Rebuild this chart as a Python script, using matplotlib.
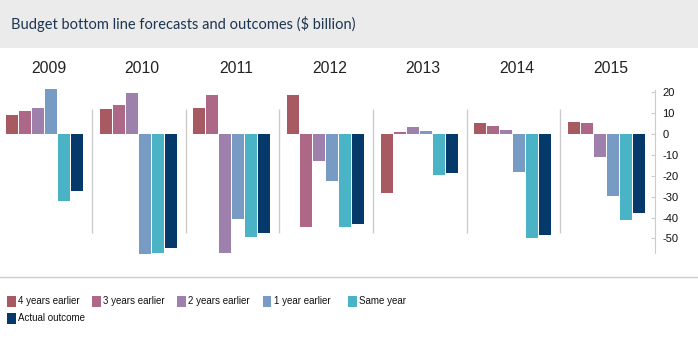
import matplotlib
matplotlib.use("Agg")
import matplotlib.pyplot as plt
from matplotlib.patches import Rectangle
from matplotlib.lines import Line2D

years = ["2009", "2010", "2011", "2012", "2013", "2014", "2015"]
series_names = ["4 years earlier", "3 years earlier", "2 years earlier",
                "1 year earlier", "Same year", "Actual outcome"]
four_years = [9.1, 12.0, 12.5, 18.7, -28.3, 5.3, 5.8]
three_years = [11.0, 13.9, 18.7, -44.6, 1.0, 3.8, 5.3]
two_years = [12.5, 19.6, -57.0, -12.9, 3.4, 1.9, -11.0]
one_year = [21.6, -57.5, -40.7, -22.5, 1.4, -18.2, -29.7]
same_year = [-32.1, -57.0, -49.4, -44.6, -19.6, -49.8, -41.2]
actual = [-27.3, -54.6, -47.4, -43.1, -18.7, -48.4, -37.9]
yticks = [20, 10, 0, -10, -20, -30, -40, -50]

series = [four_years, three_years, two_years, one_year, same_year, actual]
colors = ["#a85a62", "#ad6787", "#9d80ac", "#779bc3", "#4ab3c5", "#04396a"]

W, H = 698, 341
fig = plt.figure(figsize=(W / 100, H / 100), dpi=100)
plt.rcParams['font.family'] = ['Liberation Sans', 'DejaVu Sans']

# title band
fig.patches.append(Rectangle((0, 1 - 48 / H), 1, 48 / H, transform=fig.transFigure,
                             facecolor="#ebebeb", edgecolor="none", zorder=0))
fig.text(11 / W, 1 - 24 / H, "Budget bottom line forecasts and outcomes ($ billion)",
         fontsize=10.5, color="#1d3550", va="center", ha="left", family=["Lato", "DejaVu Sans"])

ax = fig.add_axes([0, 1 - 253 / H, 654.5 / W, (253 - 90) / H])
gs = 7.2
bw = 0.92
for k, (vals, c) in enumerate(zip(series, colors)):
    xs = [g * gs + k for g in range(len(years))]
    ax.bar(xs, vals, width=bw, color=c, clip_on=False, zorder=2)

for g in range(len(years) - 1):
    ax.vlines(g * gs + 6.14, -47.4, 12, color="#cccccc", lw=1, zorder=1)

for g, y in enumerate(years):
    ax.text(g * gs + 2.8, 1.132, y, transform=ax.get_xaxis_transform(),
            ha="center", va="center", fontsize=11.3, color="#222222")

ax.set_xlim(-0.92, 49.39)
ax.set_ylim(-57.0, 21.1)
for s in ["top", "left", "bottom"]:
    ax.spines[s].set_visible(False)
ax.spines["right"].set_color("#cccccc")
ax.yaxis.tick_right()
ax.set_yticks(yticks)
ax.set_yticklabels([str(t) for t in yticks])
ax.tick_params(axis="y", direction="in", length=3, color="#cccccc", pad=5.8,
               labelsize=8, labelcolor="#111111")
ax.set_xticks([])
ax.patch.set_visible(False)

# separator line
fig.add_artist(Line2D([0, 1], [1 - 277 / H, 1 - 277 / H], transform=fig.transFigure,
                      color="#cccccc", lw=1))

# legend
positions = [(7, 301), (92, 301), (177, 301), (262.7, 301), (348, 301), (7, 318)]
for (px, py), name, c in zip(positions, series_names, colors):
    fig.patches.append(Rectangle((px / W, 1 - (py + 5.5) / H), 8.7 / W, 11 / H,
                                 transform=fig.transFigure, facecolor=c, edgecolor="none"))
    fig.text((px + 11) / W, 1 - py / H, name, fontsize=7, va="center", ha="left",
             color="#111111")

fig.savefig("out.png", dpi=100)
